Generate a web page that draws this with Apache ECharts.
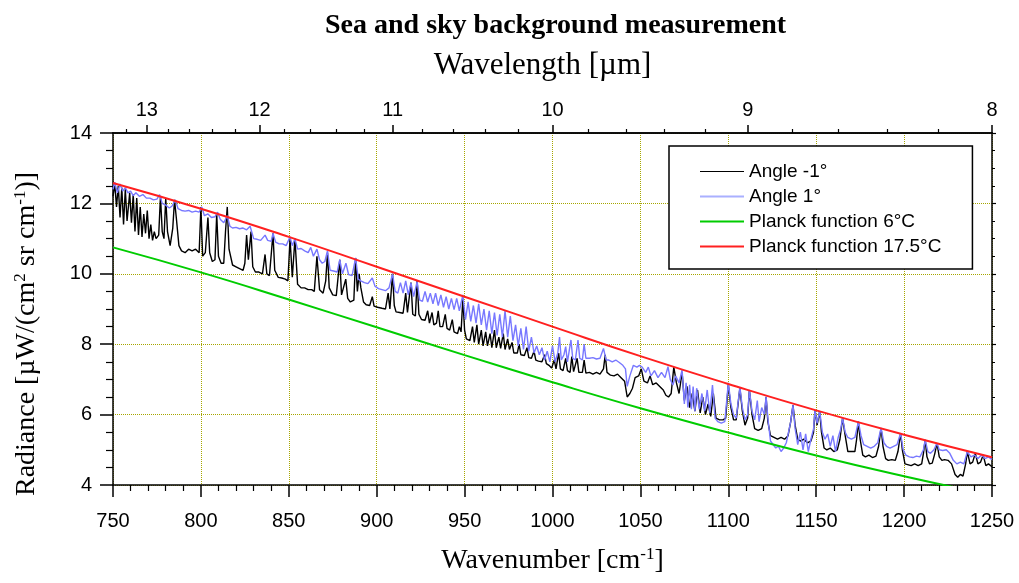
<!DOCTYPE html>
<html>
<head>
<meta charset="utf-8">
<title>Sea and sky background measurement</title>
<script src="https://cdn.jsdelivr.net/npm/echarts@6/dist/echarts.min.js"></script>
<style>
  html, body { margin: 0; padding: 0; background: #fff; }
  #chart { width: 1019px; height: 583px; }
</style>
</head>
<body>
<div id="chart"></div>
<script>
// Measured radiance spectra: [wavenumber cm^-1, radiance µW/(cm² sr cm⁻¹)]
const angleMinus1 = [
  [750,12.2],[751,12.55],[752,11.9],[753,12.5],[754,11.6],[755,12.45],[756,11.4],[757,12.4],[758,11.5],[759.5,12.3],
  [760.5,11.45],[761.5,12.25],[762.5,11.2],[763.5,12.15],[764.5,11.1],[765.5,11.9],[766.5,11.05],[767.5,11.7],[768.5,11.15],[769.5,11.8],
  [770.5,11.0],[771.5,11.4],[772.5,10.95],[773.5,11.2],[774.5,11.0],[776,11.1],[777,12.2],[778,11.2],[779,11.0],[780,12.15],
  [781,11.2],[782.5,10.8],[784,11.3],[785,12.1],[786,11.6],[787.5,10.8],[789,10.65],[791,10.6],[793,10.7],[795,10.65],
  [797,10.7],[799,10.6],[800,11.9],[801,10.5],[802.5,10.6],[804,11.6],[805,10.6],[806.5,10.35],[808,10.4],[809,11.7],
  [810,10.5],[811.5,10.3],[813,10.3],[814,11.2],[815,11.9],[816,10.7],[818,10.25],[820,10.2],[822,10.15],[824,10.1],
  [825,10.3],[826,11.1],[827,10.4],[828.5,11.2],[829.5,10.2],[831,10.05],[833,10.05],[835,10.0],[836.5,10.55],[837.5,10.0],
  [839,9.95],[841,11.15],[842,10.1],[844,9.9],[846,9.88],[848,9.85],[849.5,9.8],[850.7,11.0],[852,9.9],[853.5,11.0],
  [855,9.7],[857,9.6],[859,9.6],[861,9.55],[863,9.55],[864.5,9.5],[866,10.5],[867.5,9.55],[869.5,9.45],[871,9.8],
  [872,10.6],[873,9.6],[875,9.4],[877,9.38],[879,10.4],[880,9.4],[881,9.35],[882.4,9.85],[883.5,9.3],[885,9.2],
  [887,9.25],[888,10.45],[889,9.5],[890,10.0],[891,9.6],[892.5,9.2],[894,9.12],[896,9.1],[897.5,9.35],[898.5,9.08],
  [900.5,9.05],[903,9.02],[905,9.0],[906.5,9.45],[907.5,9.0],[909,10.0],[910,9.1],[911,8.92],[913,8.9],[915,8.88],
  [916.5,9.45],[917.5,8.9],[919.5,9.75],[920.5,8.85],[922,8.8],[923,9.8],[924,8.85],[925.5,8.7],[927.5,8.68],[929,8.95],
  [930,8.6],[931.5,8.9],[932.5,8.55],[934,8.6],[935,8.95],[936,8.5],[937.5,8.5],[939,8.85],[940,8.45],[941.5,8.4],
  [943,8.7],[944,8.35],[946,8.3],[947,8.5],[948,8.35],[949,9.3],[950,8.4],[951,8.15],[953,8.1],[954.5,8.5],
  [955.5,8.05],[957,8.55],[958,8.0],[959.5,8.4],[960.5,7.95],[962,8.35],[963,7.95],[964.5,8.3],[965.5,7.9],[967,8.4],
  [968,7.9],[969.5,8.2],[970.5,7.88],[972,8.3],[973,7.85],[974.5,8.15],[975.5,7.85],[977,8.05],[978,7.75],[980,7.75],
  [981,8.0],[982,7.7],[984,7.68],[985.5,7.9],[986.5,7.62],[988,7.6],[989.5,7.8],[990.5,7.55],[992,7.52],[994,7.5],
  [995.5,7.7],[996.5,7.45],[998,7.4],[999.5,7.32],[1001,7.55],[1002,7.3],[1003.5,7.75],[1004.5,7.3],[1006,7.25],[1007.5,7.6],
  [1008.5,7.25],[1010,7.2],[1011,7.65],[1012,7.22],[1014,7.6],[1015,7.2],[1017,7.2],[1018,7.55],[1019,7.18],[1021,7.2],
  [1023,7.15],[1025,7.2],[1027,7.15],[1029,7.3],[1030,7.7],[1031,7.2],[1033,7.12],[1035,7.1],[1037,7.15],[1039,7.05],
  [1041,6.95],[1042.5,6.5],[1044,6.6],[1045.5,6.75],[1047,7.05],[1049,7.1],[1050.5,7.3],[1052,6.95],[1054,6.9],[1055.5,7.1],
  [1057,6.85],[1059,6.9],[1061,6.8],[1063,6.7],[1064.5,6.55],[1066,6.5],[1067.5,6.6],[1069,7.35],[1070.5,6.9],[1072,6.6],
  [1073.7,7.2],[1075,6.4],[1076.5,6.8],[1078,6.2],[1079.5,6.6],[1081,6.1],[1082.5,6.7],[1084,6.05],[1085.5,6.5],[1087,6.0],
  [1088.5,6.3],[1090,5.95],[1091.5,6.6],[1093,5.9],[1095,5.85],[1097,5.85],[1098.5,5.9],[1100,6.85],[1101.5,6.2],[1103,5.85],
  [1104.5,5.85],[1106.6,6.75],[1108,6.1],[1109.5,5.7],[1111,5.9],[1112,6.7],[1113.5,6.0],[1115,5.6],[1117,5.55],[1119,5.6],
  [1120.5,5.9],[1121.5,6.5],[1122.5,5.8],[1124,5.4],[1126,5.35],[1128,5.3],[1130,5.35],[1132,5.3],[1134,5.4],[1135.5,5.8],
  [1136.8,6.27],[1138,5.7],[1139.5,5.3],[1141,5.25],[1143,5.3],[1145,5.2],[1147,5.25],[1148.5,5.5],[1149.3,6.13],[1150.5,5.7],
  [1152,6.1],[1153,5.5],[1154.5,5.05],[1156,5.0],[1158,5.05],[1160,4.95],[1162,5.0],[1163.5,5.3],[1165,5.9],[1166.5,5.4],
  [1168,4.95],[1170,4.95],[1172,4.95],[1173,5.3],[1174,5.8],[1175,5.3],[1176.5,4.85],[1178,4.8],[1180,4.85],[1182,4.78],
  [1184,4.82],[1185.5,5.1],[1186.9,5.62],[1188,5.1],[1189.5,4.75],[1191,4.7],[1193,4.72],[1195,4.7],[1196.5,4.95],[1198,5.47],
  [1199,5.0],[1200.5,4.6],[1202,4.58],[1204,4.55],[1206,4.6],[1208,4.55],[1210,4.6],[1211,4.9],[1212,5.28],[1213,4.8],
  [1214.5,4.6],[1216,4.62],[1217.5,4.9],[1218.7,5.19],[1220,4.8],[1221.5,4.7],[1223,4.72],[1225,4.7],[1227,4.6],[1229,4.3],
  [1230.5,4.22],[1232,4.3],[1233.5,4.25],[1235,4.6],[1236,4.95],[1237.5,4.6],[1239,4.65],[1240.5,4.9],[1242,4.6],[1243.5,4.65],
  [1245,4.85],[1246.5,4.55],[1248,4.6],[1250,4.52]
];

const anglePlus1 = [
  [750,12.4],[751,12.6],[752.5,12.3],[754,12.55],[755.5,12.35],[757,12.45],[758.5,12.3],[760,12.35],[761.5,12.22],[763,12.3],
  [765,12.2],[767,12.25],[769,12.15],[771,12.15],[773,12.1],[775,12.12],[776.5,12.25],[778,12.0],[780,11.95],[782,11.87],
  [783.5,11.92],[785.5,12.1],[787,11.85],[789,11.8],[791,11.78],[793,11.8],[795,11.75],[797,11.78],[799,11.75],[800.5,11.9],
  [802,11.65],[804,11.7],[806,11.6],[808,11.62],[809.5,11.75],[811,11.55],[813,11.45],[815,11.65],[816.5,11.35],[818,11.3],
  [820,11.32],[822,11.28],[824,11.3],[826,11.25],[828,11.35],[830,11.0],[832,10.98],[834,10.95],[836.5,11.1],[838,10.95],
  [840,10.92],[841,11.15],[842.5,10.9],[844.5,10.85],[846.5,10.85],[848.5,10.8],[850.7,11.05],[852,10.8],[853.5,11.0],[855,10.7],
  [857,10.72],[859,10.65],[861,10.6],[862.5,10.75],[864,10.5],[866,10.7],[867.5,10.4],[869,10.3],[870.5,10.35],[872,10.65],
  [873.5,10.1],[875.5,10.08],[877.5,10.05],[879,10.4],[880.5,10.0],[882.5,10.3],[884,9.98],[886,9.95],[888,10.45],[889.5,9.85],
  [891,9.8],[893,9.75],[895,9.72],[897.5,9.88],[899,9.65],[901,9.58],[903,9.55],[905,9.52],[907,9.6],[909,10.0],
  [910.5,9.5],[912,9.45],[913.5,9.75],[915,9.45],[916.5,9.8],[918,9.4],[919.5,9.74],[921,9.35],[923,9.78],[924.5,9.25],
  [926,9.22],[927.5,9.5],[929,9.2],[930.5,9.45],[932,9.15],[933.5,9.45],[935,9.1],[936.5,9.4],[938,9.05],[939.5,9.35],
  [941,9.0],[942.5,9.3],[944,8.98],[945.5,9.3],[947,8.95],[949,9.4],[950.5,8.7],[952,9.2],[953.5,8.65],[955,9.1],
  [956.5,8.6],[958,9.15],[959.5,8.55],[961,9.0],[962.5,8.4],[964,8.95],[965.5,8.3],[967,8.9],[968.5,8.25],[970,8.85],
  [971.5,8.2],[973,8.95],[974.5,8.2],[976,8.8],[977.5,8.1],[979,8.55],[980.5,7.95],[982,8.45],[983.5,7.85],[985,8.5],
  [986.5,7.8],[988,8.2],[989.5,7.75],[991,7.95],[992.5,7.7],[994,7.9],[995.5,7.55],[997,7.8],[998.5,7.5],[1000,7.95],
  [1001.5,7.5],[1003,7.75],[1004,8.2],[1005,7.55],[1006.5,7.7],[1007.5,7.93],[1008.5,7.5],[1010.5,8.12],[1011.5,7.6],[1013,7.55],
  [1014.5,8.12],[1015.5,7.6],[1017,7.55],[1018,8.0],[1019,7.6],[1021,7.6],[1023,7.62],[1025,7.58],[1027,7.6],[1029,7.88],
  [1030.5,7.55],[1032,7.55],[1034,7.5],[1036,7.55],[1038,7.48],[1040,7.4],[1041.5,7.3],[1042.5,6.8],[1044,7.1],[1046,7.4],
  [1048,7.35],[1049.5,7.4],[1051,7.35],[1053,7.2],[1054.5,7.35],[1056,7.1],[1058,7.25],[1060,7.05],[1062,7.2],[1064,7.05],
  [1065.7,7.36],[1067,7.0],[1068.5,6.84],[1070,7.1],[1072,6.9],[1073.7,7.27],[1075,6.3],[1076,6.9],[1077,6.2],[1078,6.85],
  [1079,6.15],[1080,6.8],[1081,6.1],[1082,6.75],[1083.5,6.15],[1085,6.6],[1086.5,6.1],[1088,6.7],[1089.5,6.05],[1091,6.84],
  [1092.5,5.9],[1094,5.8],[1096,5.76],[1098,5.8],[1100,6.9],[1101.5,6.3],[1103,6.0],[1104.5,5.9],[1106.6,6.78],[1108,6.2],
  [1109.5,5.85],[1111,6.0],[1112,6.7],[1113.5,6.1],[1115,5.85],[1116.5,6.4],[1117.5,5.8],[1119,6.2],[1120.5,6.0],[1121.5,6.51],
  [1122.5,5.9],[1124,5.25],[1125.5,5.15],[1127,5.05],[1128.5,5.1],[1130,4.95],[1131.5,5.05],[1133,5.2],[1135.5,5.8],[1136.8,6.27],
  [1138,5.6],[1139.5,5.15],[1141,5.5],[1142.5,5.0],[1144,5.45],[1145.5,4.95],[1147,5.3],[1148.5,5.6],[1149.3,6.13],[1150.5,5.75],
  [1152,6.1],[1153.5,5.5],[1155,5.3],[1156.5,5.45],[1158,5.1],[1159.5,5.4],[1161,4.95],[1162.5,5.35],[1164,5.6],[1165,5.9],
  [1166.5,5.5],[1168,5.35],[1170,5.3],[1172,5.35],[1174,5.8],[1175.5,5.4],[1177,5.15],[1179,5.1],[1181,5.05],[1183,5.1],
  [1185,5.2],[1186.9,5.62],[1188.5,5.2],[1190,5.1],[1192,5.05],[1194,5.1],[1196,5.15],[1198,5.47],[1199.5,5.0],[1201,4.85],
  [1203,4.8],[1205,4.78],[1207,4.82],[1209,4.8],[1211,5.0],[1212,5.28],[1213.5,4.95],[1215,4.9],[1217,5.0],[1218.7,5.19],
  [1220,5.0],[1222,4.98],[1224,5.0],[1226,4.9],[1228,4.7],[1230,4.6],[1232,4.65],[1234,4.6],[1236,4.95],[1238,4.8],
  [1240,4.85],[1242,4.75],[1244,4.85],[1246,4.75],[1248,4.8],[1250,4.72]
];

// Blackbody reference curves
const planck6 = [
  [750,10.75],[800,10.04],[850,9.27],[900,8.48],[950,7.69],[1000,6.92],
  [1050,6.18],[1100,5.49],[1150,4.84],[1200,4.25],[1250,3.71]
];
const planck17 = [
  [750,12.58],[800,11.85],[850,11.05],[900,10.20],[950,9.35],[1000,8.50],
  [1050,7.66],[1100,6.87],[1150,6.12],[1200,5.43],[1250,4.79]
];

// Secondary (top) scale in wavelength, µm
const wavelengthMajor = [13, 12, 11, 10, 9, 8];
const wavelengthMinor = [13.2, 12.8, 12.6, 12.4, 12.2, 11.8, 11.6, 11.4, 11.2,
  10.8, 10.6, 10.4, 10.2, 9.8, 9.6, 9.4, 9.2, 8.8, 8.6, 8.4, 8.2];

const seriesNames = ['Angle -1°', 'Angle 1°', 'Planck function 6°C', 'Planck function 17.5°C'];

const toWavenumber = um => 10000 / um;
const SANS = '"Liberation Sans", Arial, sans-serif';
const SERIF = '"Liberation Serif", "Times New Roman", serif';
const GRID_COLOR = '#a6a600';

const chart = echarts.init(document.getElementById('chart'), null, { renderer: 'canvas' });

const axisLine = { show: true, lineStyle: { color: '#000', width: 1.5 } };

chart.setOption({
  animation: false,
  backgroundColor: '#fff',
  title: {
    text: 'Sea and sky background measurement',
    left: 320,
    top: 6,
    textStyle: { fontFamily: SERIF, fontWeight: 'bold', fontSize: 28, lineHeight: 30, color: '#000' }
  },
  grid: { left: 113, right: 27, top: 133, bottom: 98, containLabel: false },
  legend: {
    orient: 'vertical',
    left: 669,
    top: 146,
    padding: [16, 31, 13, 30],
    itemWidth: 44,
    itemHeight: 14,
    itemGap: 6,
    borderColor: '#000',
    borderWidth: 1.5,
    backgroundColor: '#fff',
    itemStyle: { opacity: 0 },
    textStyle: { fontFamily: SANS, fontSize: 19, lineHeight: 19, color: '#000' },
    data: [
      { name: seriesNames[0], lineStyle: { width: 1 } },
      { name: seriesNames[1], lineStyle: { color: '#aab0ff', width: 2 } },
      { name: seriesNames[2], lineStyle: { width: 2 } },
      { name: seriesNames[3], lineStyle: { width: 2 } }
    ]
  },
  xAxis: [
    {
      type: 'value', position: 'bottom', min: 750, max: 1250, interval: 50,
      name: '{a|Wavenumber [cm}{s|-1}{a|]}',
      nameLocation: 'middle', nameGap: 61,
      nameTextStyle: {
        rich: {
          a: { fontFamily: SERIF, fontSize: 28, lineHeight: 30, color: '#000' },
          s: { fontFamily: SERIF, fontSize: 17, lineHeight: 17, verticalAlign: 'top', color: '#000' }
        }
      },
      axisLine: axisLine,
      axisTick: { show: true, length: 12, lineStyle: { color: '#000', width: 1.5 } },
      minorTick: { show: true, splitNumber: 5, length: 6, lineStyle: { color: '#000', width: 1.2 } },
      axisLabel: { fontFamily: SANS, fontSize: 20, margin: 26, color: '#000', formatter: v => String(v) },
      splitLine: { show: true, lineStyle: { color: GRID_COLOR, type: 'dotted', width: 1 } }
    },
    {
      type: 'value', position: 'top', min: 750, max: 1250,
      name: 'Wavelength [µm]',
      nameLocation: 'middle', nameGap: 51,
      nameTextStyle: { fontFamily: SERIF, fontSize: 31, lineHeight: 32, color: '#000', padding: [0, 20, 0, 0] },
      axisLine: axisLine,
      axisTick: { show: true, length: 8, customValues: wavelengthMajor.map(toWavenumber),
        lineStyle: { color: '#000', width: 1.5 } },
      axisLabel: { show: true, fontFamily: SANS, fontSize: 20, margin: 13, color: '#000',
        customValues: wavelengthMajor.map(toWavenumber),
        formatter: v => String(Math.round(10000 / v)) },
      splitLine: { show: false }
    },
    {
      type: 'value', position: 'top', min: 750, max: 1250,
      axisLine: axisLine,
      axisTick: { show: true, length: 4, customValues: wavelengthMinor.map(toWavenumber),
        lineStyle: { color: '#000', width: 1.2 } },
      axisLabel: { show: false },
      splitLine: { show: false }
    }
  ],
  yAxis: [
    {
      type: 'value', position: 'left', min: 4, max: 14, interval: 2,
      name: '{a|Radiance [µW/(cm}{s|2}{a| sr cm}{s|-1}{a|)]}',
      nameLocation: 'middle', nameRotate: 90, nameGap: 71,
      nameTextStyle: {
        padding: [0, 50, 0, 0],
        rich: {
          a: { fontFamily: SERIF, fontSize: 28, lineHeight: 30, color: '#000' },
          s: { fontFamily: SERIF, fontSize: 17, lineHeight: 17, verticalAlign: 'top', color: '#000' }
        }
      },
      axisLine: axisLine,
      axisTick: { show: true, length: 13, lineStyle: { color: '#000', width: 1.5 } },
      minorTick: { show: true, splitNumber: 4, length: 7, lineStyle: { color: '#000', width: 1.2 } },
      axisLabel: { fontFamily: SANS, fontSize: 20, margin: 21, color: '#000' },
      splitLine: { show: true, lineStyle: { color: GRID_COLOR, type: 'dotted', width: 1 } }
    },
    {
      type: 'value', position: 'right', min: 4, max: 14, interval: 2,
      axisLine: axisLine,
      axisTick: { show: true, length: 4, lineStyle: { color: '#000', width: 1.2 } },
      minorTick: { show: true, splitNumber: 4, length: 3, lineStyle: { color: '#000', width: 1 } },
      axisLabel: { show: false },
      splitLine: { show: false }
    }
  ],
  series: [
    { name: seriesNames[0], type: 'line', data: angleMinus1, symbol: 'none', clip: true,
      lineStyle: { color: '#000000', width: 1.4 }, itemStyle: { color: '#000000' }, z: 2 },
    { name: seriesNames[1], type: 'line', data: anglePlus1, symbol: 'none', clip: true,
      lineStyle: { color: '#7878ff', width: 1.4 }, itemStyle: { color: '#7878ff' }, z: 3 },
    { name: seriesNames[2], type: 'line', data: planck6, symbol: 'none', smooth: true, clip: true,
      lineStyle: { color: '#00cc00', width: 2 }, itemStyle: { color: '#00cc00' }, z: 4 },
    { name: seriesNames[3], type: 'line', data: planck17, symbol: 'none', smooth: true, clip: true,
      lineStyle: { color: '#ff2020', width: 2 }, itemStyle: { color: '#ff2020' }, z: 5 }
  ]
});
</script>
</body>
</html>
